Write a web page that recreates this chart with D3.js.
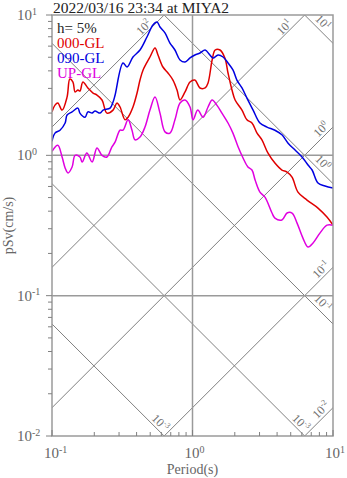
<!DOCTYPE html>
<html>
<head>
<meta charset="utf-8">
<script src="https://cdn.jsdelivr.net/npm/d3@7"></script>
<style>
body { margin: 0; background: #fff; }
text { font-family: "Liberation Serif", "Times New Roman", serif; }
</style>
</head>
<body>
<script>
var w = 347;
var h = 478;
var margin = {top: 15, right: 14, bottom: 42, left: 52};

//Data
var title = "2022/03/16 23:34 at MIYA2";
var damping = "h= 5%";
var seriesNames = ["000-GL", "090-GL", "UP-GL"];
var seriesColors = ["#e00000", "#0000e0", "#e000e0"];

var ewPeriod = [0.100, 0.105, 0.110, 0.118, 0.128, 0.134, 0.141, 0.146, 0.153, 0.158, 0.166, 0.180, 0.196, 0.209, 0.227, 0.246, 0.272, 0.290, 0.305, 0.331, 0.348, 0.377, 0.403, 0.423, 0.445, 0.498, 0.541, 0.568, 0.616, 0.669, 0.726, 0.776, 0.815, 0.885, 0.960, 1.04, 1.13, 1.23, 1.29, 1.38, 1.45, 1.57, 1.70, 1.79, 1.91, 2.01, 2.25, 2.44, 2.65, 2.88, 3.12, 3.44, 3.86, 4.33, 4.71, 5.11, 5.63, 6.53, 7.82, 9.06, 10.0];
var ewSv = [2.04, 2.28, 2.36, 2.10, 2.60, 3.50, 3.33, 2.83, 2.92, 2.87, 3.33, 3.02, 2.78, 2.69, 2.48, 2.00, 2.10, 2.36, 2.21, 1.79, 1.87, 2.21, 2.78, 3.44, 4.06, 5.02, 5.82, 5.19, 4.26, 3.86, 3.44, 2.92, 2.48, 2.83, 3.33, 3.44, 3.02, 3.02, 3.28, 4.78, 5.63, 5.63, 4.94, 3.86, 2.92, 2.48, 2.10, 1.79, 1.70, 1.44, 1.29, 1.04, 0.881, 0.786, 0.760, 0.700, 0.547, 0.480, 0.421, 0.363, 0.318];

var nsPeriod = [0.100, 0.105, 0.114, 0.124, 0.128, 0.139, 0.153, 0.158, 0.172, 0.180, 0.193, 0.202, 0.220, 0.231, 0.259, 0.272, 0.281, 0.320, 0.342, 0.377, 0.423, 0.474, 0.523, 0.559, 0.587, 0.637, 0.691, 0.750, 0.815, 0.885, 0.960, 1.04, 1.13, 1.23, 1.33, 1.40, 1.52, 1.65, 1.79, 1.94, 2.07, 2.25, 2.44, 2.70, 3.02, 3.39, 3.86, 4.33, 4.79, 5.37, 6.02, 6.64, 7.10, 7.82, 8.77, 10.0];
var nsSv = [1.26, 1.44, 1.51, 1.70, 1.94, 2.04, 2.17, 2.00, 1.87, 2.04, 2.00, 2.07, 2.00, 2.10, 2.17, 2.40, 2.68, 4.55, 4.26, 5.02, 5.63, 6.97, 8.49, 8.92, 8.21, 7.45, 6.31, 5.63, 4.78, 4.62, 4.94, 5.19, 5.36, 5.63, 5.19, 4.94, 5.19, 5.02, 4.55, 4.06, 3.44, 3.02, 2.56, 2.10, 1.70, 1.59, 1.51, 1.40, 1.22, 1.09, 0.973, 0.853, 0.786, 0.635, 0.604, 0.585];

var udPeriod = [0.100, 0.110, 0.118, 0.124, 0.130, 0.139, 0.146, 0.158, 0.164, 0.177, 0.193, 0.209, 0.227, 0.246, 0.267, 0.281, 0.305, 0.320, 0.348, 0.371, 0.390, 0.423, 0.459, 0.498, 0.541, 0.587, 0.637, 0.691, 0.750, 0.815, 0.885, 0.960, 1.01, 1.09, 1.19, 1.29, 1.38, 1.49, 1.62, 1.79, 1.94, 2.11, 2.29, 2.48, 2.65, 2.79, 3.02, 3.28, 3.68, 3.86, 4.33, 4.71, 5.11, 5.55, 6.11, 6.64, 7.21, 8.07, 9.06, 10.0];
var udSv = [1.07, 1.18, 0.973, 0.813, 0.748, 0.826, 1.00, 0.973, 0.896, 1.04, 0.896, 1.13, 1.00, 0.973, 1.15, 1.24, 1.51, 1.51, 1.79, 1.51, 1.29, 1.35, 1.59, 2.10, 2.60, 2.00, 1.47, 1.44, 1.79, 2.36, 2.48, 2.21, 1.79, 2.10, 1.87, 2.21, 2.48, 2.28, 2.00, 1.70, 1.44, 1.15, 0.957, 0.826, 0.786, 0.667, 0.547, 0.504, 0.388, 0.357, 0.346, 0.388, 0.388, 0.329, 0.257, 0.222, 0.237, 0.279, 0.318, 0.318];

var xTickExp = [-1, 0, 1];
var yTickExp = [-2, -1, 0, 1];
var accExp = [-2, -1, 0, 1, 2];          // constant acceleration lines (cm/s2)
var dispExp = [-3, -2, -1, 0, 1];        // constant displacement lines (cm)
var dispLabelExp = [-3, -3, -1, 0, 1];   // labels as printed on the chart

var series = [
    {name: seriesNames[0], color: seriesColors[0], period: ewPeriod, sv: ewSv},
    {name: seriesNames[1], color: seriesColors[1], period: nsPeriod, sv: nsSv},
    {name: seriesNames[2], color: seriesColors[2], period: udPeriod, sv: udSv}
];

var svg = d3.select("body")
            .append("svg")
            .attr("width", w)
            .attr("height", h);

var xScale = d3.scaleLog()
               .domain([0.1, 10])
               .range([margin.left, w - margin.right]);
var yScale = d3.scaleLog()
               .domain([0.01, 10])
               .range([h - margin.bottom, margin.top]);

var x0 = xScale.range()[0], x1 = xScale.range()[1];
var y0 = yScale.range()[1], y1 = yScale.range()[0];

svg.append("clipPath")
   .attr("id", "plotclip")
   .append("rect")
   .attr("x", x0).attr("y", y0)
   .attr("width", x1 - x0).attr("height", y1 - y0);

function pow10(sel, e, size, supSize) {
    sel.append("tspan").attr("font-size", size).text("10");
    sel.append("tspan").attr("font-size", supSize).attr("dy", "-0.55em").text(e);
}

//tripartite lines
var diag = svg.append("g").attr("clip-path", "url(#plotclip)");
var tgrid = [0.01, 100];
accExp.forEach(function(e) {
    var a = Math.pow(10, e);
    diag.append("line")
        .attr("x1", xScale(tgrid[0])).attr("y1", yScale(a * tgrid[0] / (2 * Math.PI)))
        .attr("x2", xScale(tgrid[1])).attr("y2", yScale(a * tgrid[1] / (2 * Math.PI)))
        .attr("stroke", "#808080").attr("stroke-width", 1);
});
dispExp.forEach(function(e) {
    var d = Math.pow(10, e);
    diag.append("line")
        .attr("x1", xScale(tgrid[0])).attr("y1", yScale(2 * Math.PI * d / tgrid[0]))
        .attr("x2", xScale(tgrid[1])).attr("y2", yScale(2 * Math.PI * d / tgrid[1]))
        .attr("stroke", "#808080").attr("stroke-width", 1);
});

//labels of the diagonal lines
var s2 = Math.SQRT1_2;
function diagLabel(px, py, along, perp, rising, e) {
    var cx, cy;
    if (rising) {
        cx = px - along * s2 - perp * s2;
        cy = py + along * s2 - perp * s2;
    } else {
        cx = px - along * s2 + perp * s2;
        cy = py - along * s2 - perp * s2;
    }
    var t = svg.append("text")
        .attr("transform", "translate(" + cx + "," + cy + ") rotate(" + (rising ? -45 : 45) + ")")
        .attr("text-anchor", "middle")
        .attr("fill", "#707070");
    t.append("tspan").attr("font-size", 12).attr("dy", "0.35em").text("10");
    t.append("tspan").attr("font-size", 8).attr("dy", "-0.6em").text(e);
}
accExp.forEach(function(e) {
    var a = Math.pow(10, e);
    var tTop = 10 * 2 * Math.PI / a;
    if (tTop <= 10) {
        diagLabel(xScale(tTop), y0, 23, 6, true, e);
    } else {
        diagLabel(x1, yScale(a * 10 / (2 * Math.PI)), 10, 7, true, e);
    }
});
dispExp.forEach(function(e, i) {
    var d = Math.pow(10, e);
    var svEnd = 2 * Math.PI * d / 10;
    if (svEnd >= 0.01) {
        diagLabel(x1, yScale(svEnd), 22, 8, false, dispLabelExp[i]);
    } else {
        diagLabel(xScale(2 * Math.PI * d / 0.01), y1, 12, 7, false, dispLabelExp[i]);
    }
});

//grid lines
svg.append("line")
   .attr("x1", xScale(1)).attr("x2", xScale(1))
   .attr("y1", y0).attr("y2", y1)
   .attr("stroke", "#9a9a9a").attr("stroke-width", 1.5);
[0.1, 1].forEach(function(v) {
    svg.append("line")
       .attr("x1", x0).attr("x2", x1)
       .attr("y1", yScale(v)).attr("y2", yScale(v))
       .attr("stroke", "#9a9a9a").attr("stroke-width", 1.5);
});

//spectra
var line = d3.line()
             .x(function(d) { return xScale(d[0]); })
             .y(function(d) { return yScale(d[1]); })
             .curve(d3.curveCatmullRom.alpha(0.5));
var curves = svg.append("g").attr("clip-path", "url(#plotclip)");
series.forEach(function(s) {
    curves.append("path")
          .datum(s.period.map(function(p, i) { return [p, s.sv[i]]; }))
          .attr("d", line)
          .attr("fill", "none")
          .attr("stroke", s.color)
          .attr("stroke-width", 1.5);
});

//frame
svg.append("rect")
   .attr("x", x0).attr("y", y0)
   .attr("width", x1 - x0).attr("height", y1 - y0)
   .attr("fill", "none")
   .attr("stroke", "#9a9a9a").attr("stroke-width", 1.5);

//ticks
var minor = [];
for (var k = -2; k < 1; k++) {
    for (var m = 1; m < 10; m++) minor.push(m * Math.pow(10, k));
}
minor.push(10);
minor.forEach(function(v) {
    var major = Math.abs(Math.log10(v) - Math.round(Math.log10(v))) < 1e-9;
    svg.append("line")
       .attr("x1", x0 - (major ? 6 : 4)).attr("x2", x0)
       .attr("y1", yScale(v)).attr("y2", yScale(v))
       .attr("stroke", "#808080").attr("stroke-width", 1);
    if (v >= 0.1 && v <= 10) {
        svg.append("line")
           .attr("x1", xScale(v)).attr("x2", xScale(v))
           .attr("y1", y1).attr("y2", y1 - (major ? 6 : 4))
           .attr("stroke", "#808080").attr("stroke-width", 1);
    }
});

//tick labels
yTickExp.forEach(function(e) {
    var t = svg.append("text")
       .attr("x", 17).attr("y", yScale(Math.pow(10, e)) + 5)
       .attr("fill", "#666");
    pow10(t, e, 15, 10);
});
xTickExp.forEach(function(e) {
    var t = svg.append("text")
       .attr("x", xScale(Math.pow(10, e)) - 8).attr("y", 458)
       .attr("fill", "#666");
    pow10(t, e, 15, 10);
});

//axis titles
svg.append("text")
   .attr("transform", "translate(13," + ((y0 + y1) / 2) + ") rotate(-90)")
   .attr("text-anchor", "middle")
   .attr("font-size", 14)
   .attr("fill", "#666")
   .text("pSv(cm/s)");
svg.append("text")
   .attr("x", (x0 + x1) / 2).attr("y", 474)
   .attr("text-anchor", "middle")
   .attr("font-size", 14)
   .attr("fill", "#666")
   .text("Period(s)");

//title
svg.append("text")
   .attr("x", 53).attr("y", 13)
   .attr("font-size", 15.5)
   .attr("fill", "#222")
   .text(title);

//legend
svg.append("text")
   .attr("x", 57).attr("y", 33)
   .attr("font-size", 15)
   .attr("fill", "#222")
   .text(damping);
series.forEach(function(s, i) {
    svg.append("text")
       .attr("x", 57).attr("y", 48 + i * 15)
       .attr("font-size", 15)
       .attr("fill", s.color)
       .text(s.name);
});
</script>
</body>
</html>
